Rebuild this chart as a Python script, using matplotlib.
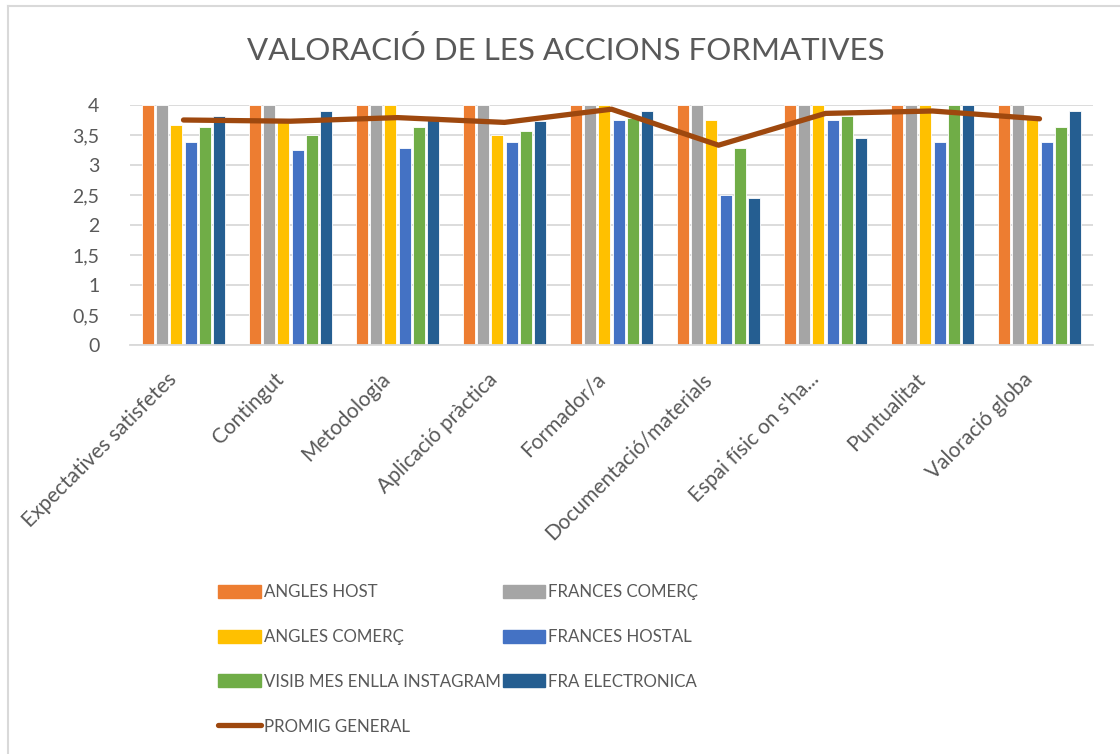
import numpy as np
import matplotlib.pyplot as plt
import matplotlib.transforms as mtransforms
from matplotlib.lines import Line2D
from matplotlib.patches import Patch

plt.rcParams['font.family'] = ['Lato', 'DejaVu Sans']

categories = ["Expectatives satisfetes", "Contingut", "Metodologia", "Aplicació pràctica",
              "Formador/a", "Documentació/materials", "Espai físic on s'ha...",
              "Puntualitat", "Valoració globa"]

angles_host = [4, 4, 4, 4, 4, 4, 4, 4, 4]
frances_comerc = [4, 4, 4, 4, 4, 4, 4, 4, 4]
angles_comerc = [3.67, 3.75, 4, 3.5, 4, 3.75, 4, 4, 3.78]
frances_hostal = [3.38, 3.25, 3.29, 3.38, 3.75, 2.5, 3.75, 3.38, 3.38]
visib_instagram = [3.64, 3.5, 3.64, 3.57, 3.79, 3.29, 3.82, 4, 3.64]
fra_electronica = [3.82, 3.9, 3.82, 3.73, 3.9, 2.45, 3.45, 4, 3.9]
promig_general = [3.75, 3.73, 3.79, 3.71, 3.93, 3.33, 3.86, 3.9, 3.77]

series = [
    ("ANGLES HOST", angles_host, "#ED7D31"),
    ("FRANCES COMERÇ", frances_comerc, "#A5A5A5"),
    ("ANGLES COMERÇ", angles_comerc, "#FFC000"),
    ("FRANCES HOSTAL", frances_hostal, "#4472C4"),
    ("VISIB MES ENLLA INSTAGRAM", visib_instagram, "#70AD47"),
    ("FRA ELECTRONICA", fra_electronica, "#255E91"),
]
line_color = "#9E480E"
text_color = "#595959"

fig = plt.figure(figsize=(11.2, 7.54), dpi=100)
ax = fig.add_axes([130 / 1120, 1 - 345 / 754, 963 / 1120, 240 / 754])

x = np.arange(len(categories))
step = 0.8 / len(series)
for i, (name, vals, color) in enumerate(series):
    ax.bar(x - 0.4 + step * (i + 0.5), vals, width=step * 0.85, color=color,
           edgecolor="white", linewidth=0.6, zorder=2)

ax.plot(x, promig_general, color=line_color, linewidth=3.8,
        solid_capstyle="round", zorder=3)

ax.set_xlim(-0.5, len(categories) - 0.5)
ax.set_ylim(0, 4)
ax.set_yticks(np.arange(0, 4.01, 0.5))
ax.set_yticklabels([f"{v:g}".replace(".", ",") for v in np.arange(0, 4.01, 0.5)])
ax.set_xticks(x)
ax.set_xticklabels([])
ax.tick_params(axis="both", length=0, colors=text_color)
ax.tick_params(axis="y", pad=22, labelsize=14)

# rotated category labels, placed like Excel does
label_trans = ax.get_xaxis_transform() + mtransforms.ScaledTranslation(
    -17 / 100, -24 / 100, fig.dpi_scale_trans)
for xi, cat in zip(x, categories):
    ax.text(xi, 0, cat, transform=label_trans, rotation=45, rotation_mode="anchor",
            ha="right", va="top", fontsize=15, color=text_color)

ax.grid(axis="y", color="#D9D9D9", linewidth=1.3, zorder=0)
for s in ["top", "right", "left"]:
    ax.spines[s].set_visible(False)
ax.spines["bottom"].set_color("#D9D9D9")
ax.spines["bottom"].set_linewidth(1.3)

fig.text(566 / 1120, 1 - 50 / 754, "VALORACIÓ DE LES ACCIONS FORMATIVES",
         ha="center", va="center", fontsize=22.5, color=text_color)

# chart border (left and top edges visible)
fig.add_artist(Line2D([8 / 1120, 8 / 1120], [0, 1 - 6 / 754], color="#D9D9D9",
                      linewidth=1.5, transform=fig.transFigure))
fig.add_artist(Line2D([8 / 1120, 1], [1 - 6 / 754, 1 - 6 / 754], color="#D9D9D9",
                      linewidth=1.5, transform=fig.transFigure))

handles = [Patch(color=c) for _, _, c in series]
labels = [n for n, _, _ in series]
line_handle = Line2D([], [], color=line_color, linewidth=3.8, solid_capstyle="round")
h = [handles[0], handles[2], handles[4], line_handle, handles[1], handles[3], handles[5]]
l = [labels[0], labels[2], labels[4], "PROMIG GENERAL", labels[1], labels[3], labels[5]]
fig.legend(h, l, ncol=2, loc="upper left", bbox_to_anchor=(203 / 1120, 1 - 569 / 754),
           frameon=False, fontsize=12.2, labelcolor=text_color, handlelength=2.5,
           handleheight=0.8, handletextpad=0.2, labelspacing=1.7, columnspacing=0.1)

fig.savefig("out.png", dpi=100)
